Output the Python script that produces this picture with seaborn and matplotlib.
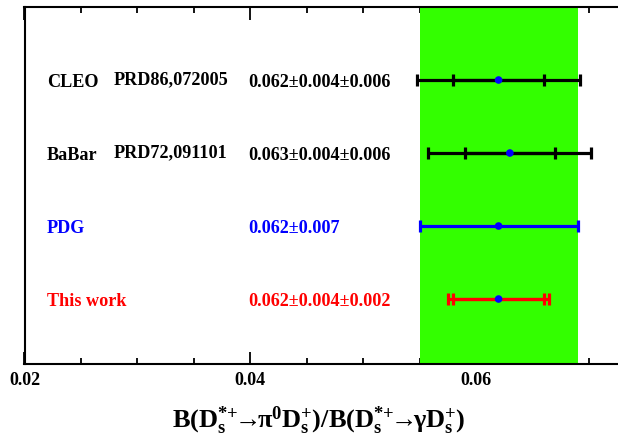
import numpy as np
import pandas as pd
import matplotlib
matplotlib.use("Agg")
import matplotlib.pyplot as plt
from matplotlib.ticker import MultipleLocator, FixedLocator, FuncFormatter
import seaborn as sns

# ---------------- data ----------------
experiments = ["CLEO", "BaBar", "PDG", "This work"]
references = ["PRD86,072005", "PRD72,091101", "", ""]
values = [0.062, 0.063, 0.062, 0.062]
stat_err = [0.004, 0.004, 0.007, 0.004]
syst_err = [0.006, 0.006, 0.0, 0.002]
value_labels = ["0.062\u00b10.004\u00b10.006", "0.063\u00b10.004\u00b10.006",
                "0.062\u00b10.007", "0.062\u00b10.004\u00b10.002"]
colors = ["#000000", "#000000", "#0000ff", "#ff0000"]
rows = [4, 3, 2, 1]
pdg_band = [0.055, 0.069]
x_ticks = [0.02, 0.04, 0.06]

df = pd.DataFrame({"exp": experiments, "value": values, "row": rows,
                   "stat": stat_err, "syst": syst_err})
df["total"] = np.sqrt(df["stat"] ** 2 + df["syst"] ** 2)

# ---------------- figure ----------------
sns.set_theme(style="white")
plt.rcParams["font.family"] = ["Liberation Serif", "DejaVu Serif"]
plt.rcParams["font.weight"] = "bold"
plt.rcParams["mathtext.fontset"] = "custom"
plt.rcParams["mathtext.rm"] = "Liberation Serif:bold"
plt.rcParams["mathtext.it"] = "Liberation Serif:bold"
plt.rcParams["mathtext.bf"] = "Liberation Serif:bold"

W, H = 618, 442
fig = plt.figure(figsize=(W / 100, H / 100), dpi=100)
px_per_unit = 225.75 / 0.02
left_px, bottom_px, top_px = 24.5, 364, 7
xmin, xmax = 0.02, 0.08
ax = fig.add_axes([left_px / W, (H - bottom_px) / H,
                   (xmax - xmin) * px_per_unit / W, (bottom_px - top_px) / H])
ax.set_facecolor("white")

# PDG band
ax.axvspan(pdg_band[0], pdg_band[1], color="#33ff00", lw=0, zorder=1)

lw = 2.3
for i, r in df.iterrows():
    c = colors[i]
    ax.errorbar(r["value"], r["row"], xerr=r["total"], fmt="none", ecolor=c,
                elinewidth=lw, capsize=4.6, capthick=lw, zorder=3)
    if r["syst"] > 0:
        ax.errorbar(r["value"], r["row"], xerr=r["stat"], fmt="none", ecolor=c,
                    elinewidth=lw, capsize=4.6, capthick=lw, zorder=3)

sns.scatterplot(data=df, x="value", y="row", ax=ax, color="#0000ff", s=30,
                edgecolor="none", zorder=5, legend=False)

# text labels
fs = 13.1
row_unit_px = 73.2
name_off = -7.2 / row_unit_px
ref_off = -4.6 / row_unit_px
for i in range(len(experiments)):
    y = rows[i]
    ax.text(0.0220, y + name_off, experiments[i], color=colors[i], fontsize=fs,
            fontweight="bold", va="baseline", ha="left", zorder=6)
    if references[i]:
        ax.text(0.0279, y + ref_off, references[i], color=colors[i], fontsize=fs,
                fontweight="bold", va="baseline", ha="left", zorder=6)
    ax.text(0.0398, y + name_off, value_labels[i], color=colors[i], fontsize=fs,
            fontweight="bold", va="baseline", ha="left", zorder=6)

ax.set_xlim(xmin, xmax)
ax.set_ylim(0.11, 5.0)
ax.set_xlabel("")
ax.set_ylabel("")
ax.set_yticks([])
ax.xaxis.set_major_locator(FixedLocator(x_ticks + [0.08]))
ax.xaxis.set_minor_locator(MultipleLocator(0.005))
ax.xaxis.set_major_formatter(FuncFormatter(lambda v, p: f"{v:.2f}" if v < 0.07 else ""))
ax.tick_params(axis="x", which="both", direction="in", top=True, bottom=True,
               labelsize=13, pad=5.5, colors="black")
ax.tick_params(axis="x", which="major", length=9, width=1.3)
ax.tick_params(axis="x", which="minor", length=4.5, width=1.3)
for lab in ax.get_xticklabels():
    lab.set_fontweight("bold")
for s in ["left", "bottom", "top"]:
    ax.spines[s].set_visible(True)
    ax.spines[s].set_color("black")
    ax.spines[s].set_linewidth(1.5)
ax.spines["right"].set_visible(False)

fig.text(319 / W, (H - 428) / H,
         "$\\mathrm{B(D_s^{*{+}}\\!\u2192\\!\\pi^0D_s^{+})/B(D_s^{*{+}}\\!\u2192\\!\\gamma D_s^{+})}$",
         ha="center", va="baseline", fontsize=19, color="black")

fig.savefig("out.png", dpi=100)
